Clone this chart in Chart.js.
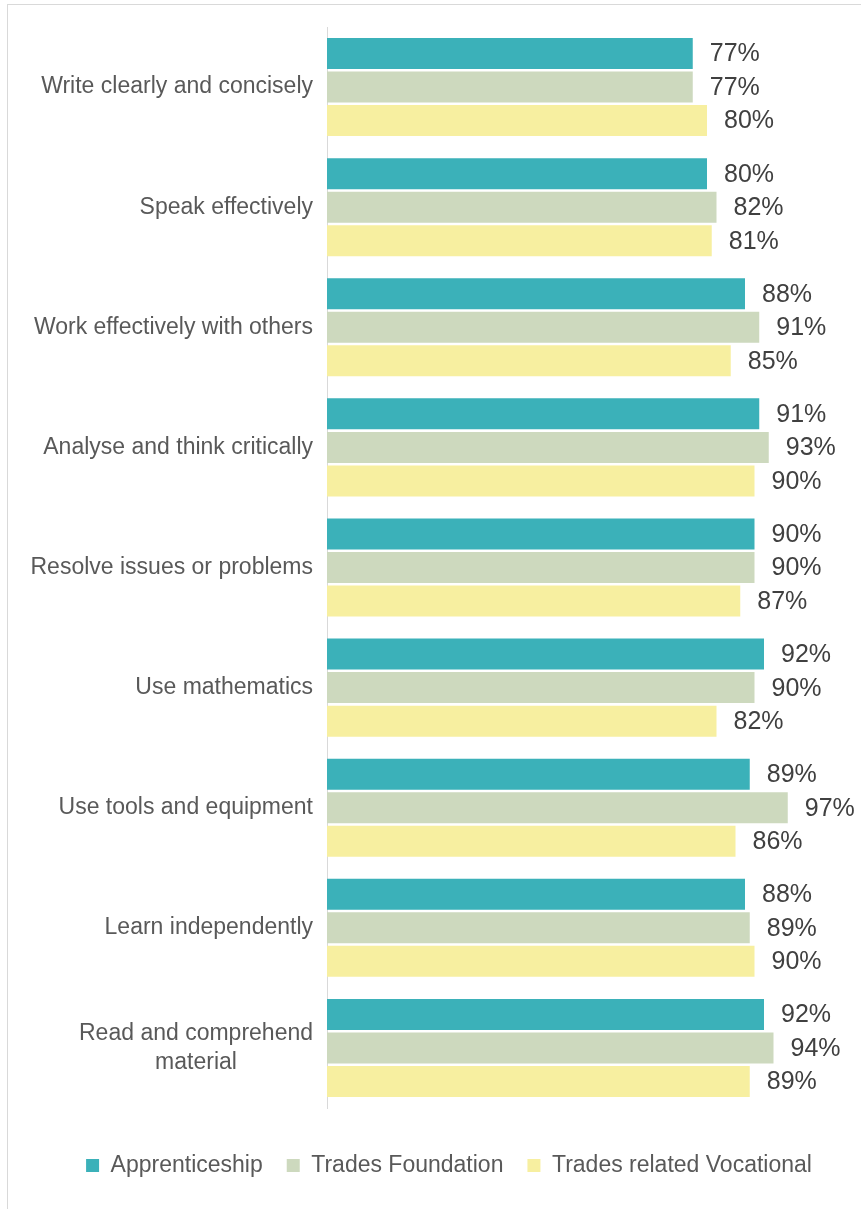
<!DOCTYPE html>
<html>
<head>
<meta charset="utf-8">
<script src="https://cdn.jsdelivr.net/npm/chart.js@4/dist/chart.umd.min.js"></script>
<style>
    html, body { margin: 0; padding: 0; background: #fff; }
    #frame {
        position: absolute; left: 7px; top: 4px;
        width: 900px; height: 1250px;
        border: 1px solid #d9d9d9;
    }
    #wrap { position: absolute; left: 0; top: 0; width: 861px; height: 1209px; }
</style>
</head>
<body>
<div id="frame"></div>
<div id="wrap"><canvas id="chart"></canvas></div>
<script>
// Categories (top to bottom)
const categorias = [
    'Write clearly and concisely',
    'Speak effectively',
    'Work effectively with others',
    'Analyse and think critically',
    'Resolve issues or problems',
    'Use mathematics',
    'Use tools and equipment',
    'Learn independently',
    ['Read and comprehend', 'material']
];

const seriesNames = ['Apprenticeship', 'Trades Foundation', 'Trades related Vocational'];

// Values in %
const apprenticeship = [77, 80, 88, 91, 90, 92, 89, 88, 92];
const tradesFoundation = [77, 82, 91, 93, 90, 90, 97, 89, 94];
const tradesVocational = [80, 81, 85, 90, 87, 82, 86, 90, 89];

const colores = ['#3BB1B9', '#CDD9BE', '#F7EFA0'];

/**
 * Draws category labels to the left of the axis
 * Multi-line labels are right-aligned as a block, lines centered
 */
const categoryLabels = {
    id: 'categoryLabels',
    afterDraw(chart) {
        const { ctx, chartArea } = chart;
        const yScale = chart.scales.y;
        const right = chartArea.left - 14;
        const lineH = 29;

        ctx.save();
        ctx.font = '23px "Liberation Sans", Arial, sans-serif';
        ctx.fillStyle = '#595959';
        ctx.textBaseline = 'middle';

        categorias.forEach((cat, i) => {
            const y = yScale.getPixelForValue(i);
            const lines = Array.isArray(cat) ? cat : [cat];
            const maxW = Math.max(...lines.map(l => ctx.measureText(l).width));
            const centerX = right - maxW / 2;
            const startY = y - (lines.length - 1) * lineH / 2;
            lines.forEach((l, j) => {
                if (lines.length === 1) {
                    ctx.textAlign = 'right';
                    ctx.fillText(l, right, startY);
                } else {
                    ctx.textAlign = 'center';
                    ctx.fillText(l, centerX, startY + j * lineH);
                }
            });
        });
        ctx.restore();
    }
};

/**
 * Draws the % value after each bar
 */
const valueLabels = {
    id: 'valueLabels',
    afterDatasetsDraw(chart) {
        const { ctx } = chart;
        ctx.save();
        ctx.font = '25px "Liberation Sans", Arial, sans-serif';
        ctx.fillStyle = '#404040';
        ctx.textAlign = 'left';
        ctx.textBaseline = 'middle';
        chart.data.datasets.forEach((ds, di) => {
            const meta = chart.getDatasetMeta(di);
            meta.data.forEach((bar, i) => {
                ctx.fillText(ds.data[i] + '%', bar.x + 17, bar.y + 1);
            });
        });
        ctx.restore();
    }
};

new Chart(document.getElementById('chart'), {
    type: 'bar',
    data: {
        labels: categorias,
        datasets: [
            { label: seriesNames[0], data: apprenticeship, backgroundColor: colores[0] },
            { label: seriesNames[1], data: tradesFoundation, backgroundColor: colores[1] },
            { label: seriesNames[2], data: tradesVocational, backgroundColor: colores[2] }
        ]
    },
    options: {
        indexAxis: 'y',
        responsive: true,
        maintainAspectRatio: false,
        animation: false,
        layout: {
            padding: { left: 37, right: 0, top: 27, bottom: 22 }
        },
        datasets: {
            bar: {
                categoryPercentage: 0.8375,
                barPercentage: 0.925,
                borderWidth: 0
            }
        },
        plugins: {
            legend: {
                display: true,
                position: 'bottom',
                labels: {
                    boxWidth: 13,
                    boxHeight: 13,
                    padding: 24,
                    color: '#595959',
                    font: { size: 23, family: '"Liberation Sans", Arial, sans-serif' }
                }
            },
            tooltip: { enabled: false }
        },
        scales: {
            x: {
                min: 0,
                max: 100,
                display: true,
                grid: { display: false },
                border: { display: false },
                ticks: { display: false },
                afterFit: (scale) => { scale.height = 22; }
            },
            y: {
                grid: { display: false, drawTicks: false },
                border: { display: true, color: '#d9d9d9', width: 1 },
                ticks: { display: false },
                afterFit: (scale) => { scale.width = 290; }
            },
            // empty axis that keeps room on the right for the value labels
            yRight: {
                type: 'linear',
                position: 'right',
                display: true,
                grid: { display: false },
                border: { display: false },
                ticks: { display: false },
                afterFit: (scale) => { scale.width = 59; }
            }
        }
    },
    plugins: [categoryLabels, valueLabels]
});
</script>
</body>
</html>
